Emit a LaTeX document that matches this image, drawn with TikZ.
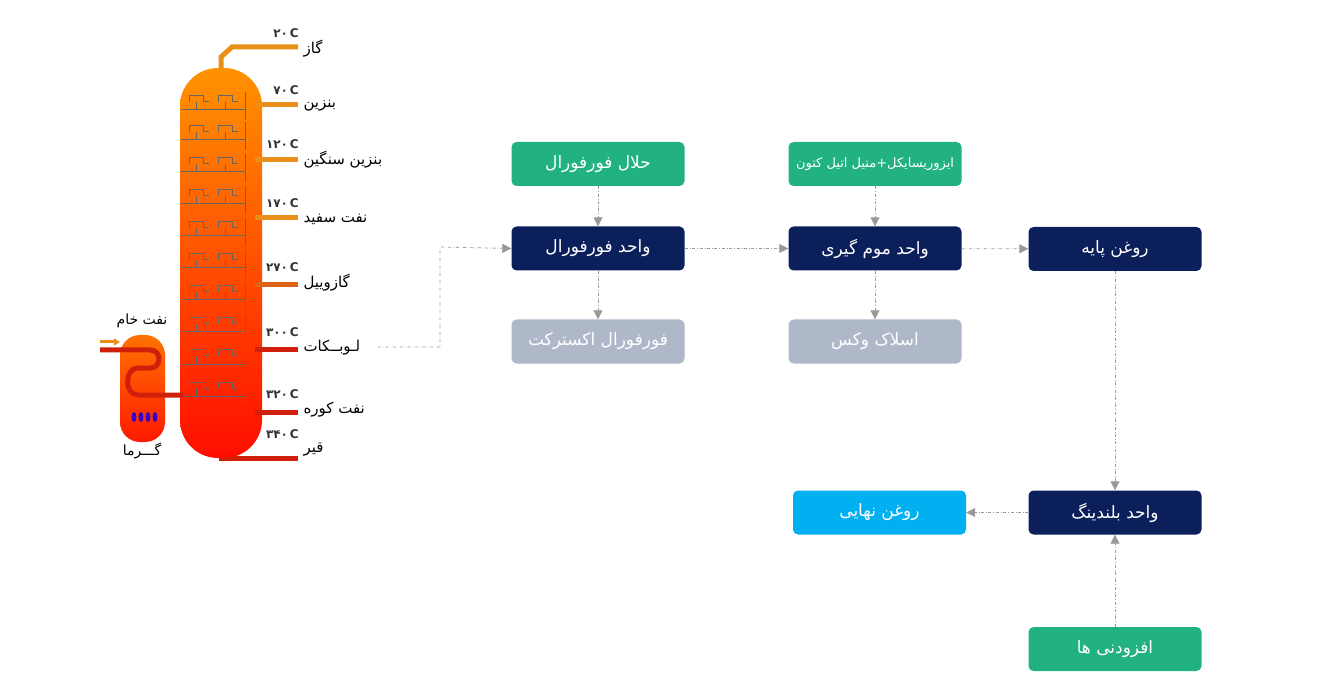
\documentclass[tikz,border=0pt]{standalone}
\usepackage{fontspec}
\newfontfamily\fa[Script=Arabic]{DejaVu Sans}
\TeXXeTstate=1
\usetikzlibrary{arrows.meta}
\definecolor{boxgreen}{HTML}{22B183}
\definecolor{boxnavy}{HTML}{0B1F5B}
\definecolor{boxgray}{HTML}{AEB8C9}
\definecolor{boxcyan}{HTML}{00B0F0}
\definecolor{pipeor}{HTML}{E8901A}
\definecolor{pipered}{HTML}{D0200C}
\tikzset{
  unit/.style={rounded corners=5pt, minimum width=173pt, minimum height=44pt, text=white, font=\fa\fontsize{17}{20}\selectfont},
  flow/.style={draw=gray!80, dash dot, line width=0.8pt, -{Triangle[length=9pt,width=9pt]}},
  pipe/.style={line width=5pt},
  tray/.style={line width=1pt, black!60},
  lbl/.style={font=\fa\fontsize{15}{17}\selectfont, anchor=west},
  tmp/.style={font=\fa\fontsize{12}{14}\selectfont\bfseries, anchor=east, text=black!80}
}
\begin{document}
\begin{tikzpicture}[x=1pt,y=-1pt]
  \useasboundingbox (0,0) rectangle (1338,684);
  %column
  \draw[pipe, pipeor] (221,72) -- (221,57) -- (232,47) -- (298,47);
  \draw[pipe, pipered] (221,450) -- (221,458) -- (298,458);
  \shade[top color=orange!85!yellow, middle color=orange!80!red, bottom color=red!90!orange, rounded corners=38pt] (180,68) rectangle (262,458);
  \foreach \y/\c in {105/pipeor,160/pipeor,218/pipeor,285/pipeor!60!pipered,350/pipered,412/pipered}
    \draw[pipe, \c] (255,\y) -- (298,\y);
  \foreach \y in {110,140,172,204,236,268,300,332,364,396}{
    \draw[tray] (181,\y) -- (245,\y);
    \draw[tray] (189,\y-8) -- (189,\y-14) -- (203,\y-14) -- (203,\y-8) -- (209,\y-8) (218,\y-8) -- (218,\y-14) -- (232,\y-14) -- (232,\y-8) -- (238,\y-8);
    \draw[tray] (196,\y) -- (196,\y-8) (225,\y) -- (225,\y-8);
    \draw[tray] (245,\y-18) -- (245,\y+10);
  }
  %heater
  \shade[top color=orange!90!red, bottom color=red!80!orange, rounded corners=20pt] (120,335) rectangle (165,442);
  \draw[pipe, pipered] (100,350) -- (150,350) .. controls (162,350) and (162,368) .. (150,368) -- (138,368) .. controls (124,368) and (124,395) .. (138,395) -- (183,395);
  \draw[-{Triangle[length=6pt,width=7pt]}, line width=3pt, pipeor] (100,342) -- (120,342);
  \foreach \x in {134,141,148,155}
    \fill[blue!60!violet] (\x,417) ellipse (2.4pt and 5pt);
  \node[font=\fa\fontsize{14}{16}\selectfont] at (142,321) {\beginR نفت خام\endR};
  \node[font=\fa\fontsize{14}{16}\selectfont] at (142,451) {\beginR گـــرما\endR};
  %products
  \foreach \y/\t/\d in {49/گاز/۲۰,106/بنزین/۷۰,160/بنزین سنگین/۱۲۰,219/نفت سفید/۱۷۰,283/گازوییل/۲۷۰,348/لـوبــکات/۳۰۰,410/نفت کوره/۳۲۰,450/قیر/۳۴۰}{
    \node[lbl] at (300,\y) {\fa\beginR\t\endR};
    \node[tmp, inner sep=1pt] at (300,\y-16) {\d\,C};
  }
  \coordinate (lube) at (378,347);
  %units
  \node[unit, fill=boxgreen] (solv) at (598,164) {\beginR حلال فورفورال\endR};
  \node[unit, fill=boxnavy] (furf) at (598,248.5) {\beginR واحد فورفورال\endR};
  \node[unit, fill=boxgray] (extr) at (598,341.5) {\beginR فورفورال اکسترکت\endR};
  \node[unit, fill=boxgreen, font=\fa\fontsize{13}{15}\selectfont] (mek) at (875,164) {\beginR ایزوریسایکل+متیل اتیل کتون\endR};
  \node[unit, fill=boxnavy] (wax) at (875,248.5) {\beginR واحد موم گیری\endR};
  \node[unit, fill=boxgray] (slack) at (875,341.5) {\beginR اسلاک وکس\endR};
  \node[unit, fill=boxnavy] (base) at (1115,249) {\beginR روغن پایه\endR};
  \node[unit, fill=boxnavy] (blend) at (1115,512.5) {\beginR واحد بلندینگ\endR};
  \node[unit, fill=boxcyan] (final) at (879.5,512.5) {\beginR روغن نهایی\endR};
  \node[unit, fill=boxgreen] (add) at (1115,649) {\beginR افزودنی ها\endR};
  %flows
  \draw[flow] (lube) -| (440,247) -- (furf.west);
  \draw[flow] (solv) -- (furf);
  \draw[flow] (furf) -- (extr);
  \draw[flow] (furf) -- (wax);
  \draw[flow] (mek) -- (wax);
  \draw[flow] (wax) -- (slack);
  \draw[flow] (wax) -- (base);
  \draw[flow] (base) -- (blend);
  \draw[flow] (blend) -- (final);
  \draw[flow] (add) -- (blend);
\end{tikzpicture}
\end{document}
